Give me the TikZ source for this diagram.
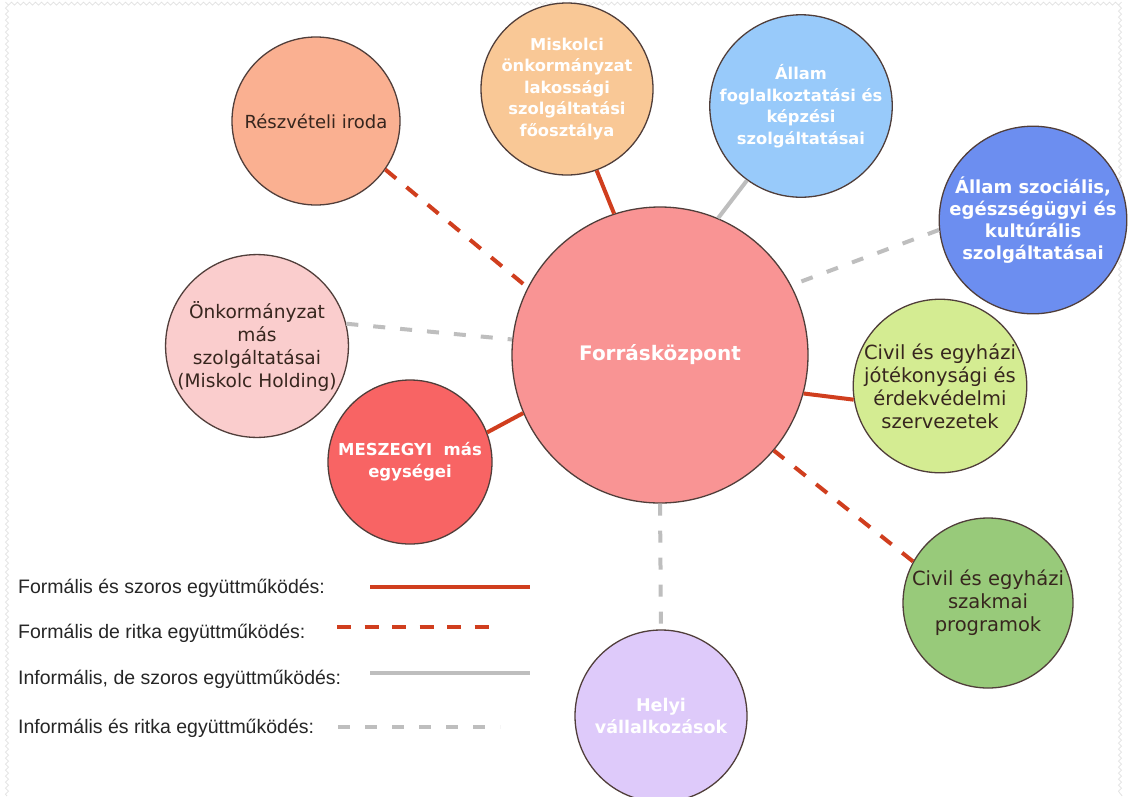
\documentclass[tikz,border=0pt]{standalone}
\usepackage{fontspec}
\setmainfont{DejaVu Sans}
\newfontfamily\legfont{Liberation Sans}
\usetikzlibrary{decorations.pathmorphing}
\definecolor{cCenter}{RGB}{249,148,148}
\definecolor{cResz}{RGB}{250,176,145}
\definecolor{cMisk}{RGB}{249,200,150}
\definecolor{cFogl}{RGB}{152,202,250}
\definecolor{cSzoc}{RGB}{108,142,240}
\definecolor{cOnk}{RGB}{250,205,205}
\definecolor{cMesz}{RGB}{248,100,100}
\definecolor{cJot}{RGB}{212,236,146}
\definecolor{cSzak}{RGB}{152,202,122}
\definecolor{cHelyi}{RGB}{222,202,250}
\definecolor{bord}{RGB}{80,62,58}
\definecolor{dtxt}{RGB}{55,38,30}
\definecolor{lred}{RGB}{208,62,30}
\definecolor{lgray}{RGB}{190,190,190}
\definecolor{pgbord}{RGB}{225,225,225}
\begin{document}
\begin{tikzpicture}[x=1pt,y=-1pt,
  bub/.style={circle, draw=bord, line width=1.3pt, inner sep=0pt, align=center},
  wtxt/.style={text=white},
  ktxt/.style={text=dtxt},
  fsolid/.style={draw=lred, line width=4pt},
  fdash/.style={draw=lred, line width=4pt, dash pattern=on 14pt off 13.5pt},
  isolid/.style={draw=lgray, line width=4pt},
  idash/.style={draw=lgray, line width=4pt, dash pattern=on 12pt off 15pt},
  legtxt/.style={anchor=west, inner sep=0pt, font=\legfont\fontsize{19.5}{22}\selectfont, text=black!85}
]
\useasboundingbox (0,0) rectangle (1129,796);
\fill[white] (0,0) rectangle (1129,796);
% faint page border
\draw[pgbord, line width=0.8pt, decorate, decoration={snake, amplitude=1.5pt, segment length=6pt}] (7,796) -- (7,3) -- (1122,3) -- (1122,796);

% nodes
\node[bub, fill=cCenter, minimum size=296pt, wtxt, font=\bfseries\fontsize{20}{24}\selectfont] (fk) at (660,355) {Forrásközpont};
\node[bub, fill=cResz, minimum size=168pt, ktxt, font=\fontsize{18}{22}\selectfont] (rez) at (316,121) {Részvételi iroda};
\node[bub, fill=cMisk, minimum size=172pt, wtxt, font=\bfseries\fontsize{16.3}{21.5}\selectfont] (misk) at (567,89) {Miskolci\\önkormányzat\\lakossági\\szolgáltatási\\főosztálya};
\node[bub, fill=cFogl, minimum size=172pt, wtxt, font=\bfseries\fontsize{16.3}{21.5}\selectfont] (fogl) at (801,106) {Állam\\foglalkoztatási és\\képzési\\szolgáltatásai};
\node[bub, fill=cSzoc, minimum size=170pt, wtxt, font=\bfseries\fontsize{18}{22}\selectfont] (szoc) at (1033,220) {Állam szociális,\\egészségügyi és\\kultúrális\\szolgáltatásai};
\node[bub, fill=cOnk, minimum size=170pt, ktxt, font=\fontsize{18.6}{23}\selectfont] (onk) at (257,346) {Önkormányzat\\más\\szolgáltatásai\\(Miskolc Holding)};
\node[bub, fill=cMesz, minimum size=164pt, wtxt, font=\bfseries\fontsize{16.5}{22}\selectfont] (mesz) at (410,462) {MESZEGYI\ \ más\\egységei};
\node[bub, fill=cJot, minimum size=170pt, ktxt, font=\fontsize{19.5}{23}\selectfont] (jot) at (940,386) {Civil és egyházi\\jótékonysági és\\érdekvédelmi\\szervezetek};
\node[bub, fill=cSzak, minimum size=170pt, ktxt, font=\fontsize{19.5}{23}\selectfont] (szak) at (988,603) {Civil és egyházi\\szakmai\\programok};
\node[bub, fill=cHelyi, minimum size=172pt, wtxt, font=\bfseries\fontsize{17.5}{22}\selectfont] (helyi) at (661,716) {Helyi\\vállalkozások};

% connectors
\draw[fdash]  (rez.-35)  -- (fk.153);
\draw[fsolid] (misk.-70) -- (fk.108);
\draw[isolid] (fogl.234) -- (fk.67);
\draw[idash]  (szoc.186) -- (fk.28);
\draw[idash]  (onk.14)   -- (fk.174);
\draw[fsolid] (mesz.21)  -- (fk.203);
\draw[fsolid] (jot.189)  -- (fk.-15);
\draw[fdash]  (szak.151) -- (fk.-40);
\draw[idash]  (fk.270)   -- (helyi.90);

% legend
\node[legtxt] (l1) at (18,588) {Formális és szoros együttműködés:};
\node[legtxt] (l2) at (18,633) {Formális de ritka együttműködés:};
\node[legtxt] (l3) at (18,679) {Informális, de szoros együttműködés:};
\node[legtxt] (l4) at (18,728) {Informális és ritka együttműködés:};
\coordinate (a1) at (370,587); \coordinate (b1) at (530,587);
\coordinate (a2) at (337,627); \coordinate (b2) at (500,627);
\coordinate (a3) at (370,673); \coordinate (b3) at (530,673);
\coordinate (a4) at (338,727); \coordinate (b4) at (500,727);
\draw[fsolid] (a1) -- (b1);
\draw[fdash]  (a2) -- (b2);
\draw[isolid] (a3) -- (b3);
\draw[idash]  (a4) -- (b4);
\end{tikzpicture}
\end{document}
